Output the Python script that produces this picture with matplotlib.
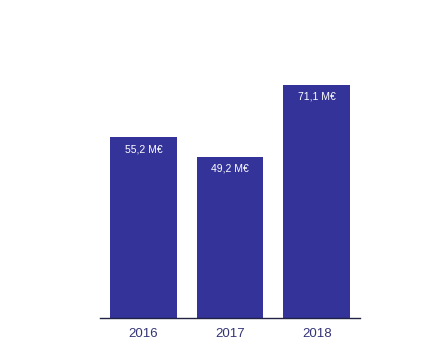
import matplotlib.pyplot as plt

years = ["2016", "2017", "2018"]
values = [55.2, 49.2, 71.1]
labels = ["55,2 M€", "49,2 M€", "71,1 M€"]

fig = plt.figure(figsize=(4.44, 3.64), dpi=100)
ax = fig.add_axes([100 / 444, 46 / 364, 260 / 444, 262 / 364])

bars = ax.bar(range(len(years)), values, width=0.77, color="#333399")
for b, lab in zip(bars, labels):
    ax.text(b.get_x() + b.get_width() / 2, b.get_height() - 3.6, lab,
            ha="center", va="center", color="white", fontsize=7.5,
            family="Liberation Sans")

ax.set_xlim(-0.5, 2.5)
ax.set_ylim(0, 80)
ax.set_xticks(range(len(years)))
ax.set_xticklabels(years, color="#333377", fontsize=9.5, family="Liberation Sans")
ax.tick_params(axis="x", length=0, pad=7)
ax.set_yticks([])
for s in ["top", "right", "left"]:
    ax.spines[s].set_visible(False)
ax.spines["bottom"].set_color("#222244")
ax.spines["bottom"].set_linewidth(1)

fig.savefig("out.png", dpi=100)
